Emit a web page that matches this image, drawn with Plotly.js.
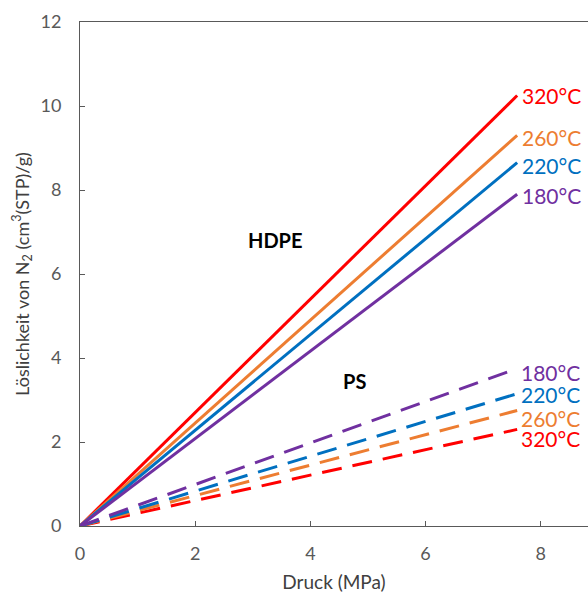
<!DOCTYPE html>
<html><head><meta charset="utf-8">
<script src="https://cdn.plot.ly/plotly-3.0.1.min.js"></script>
<style>html,body{margin:0;padding:0;background:#fff}#c{width:588px;height:593px}</style>
</head><body><div id="c"></div>
<script>
const pressure = [0, 7.59];
const temps = ['320°C', '260°C', '220°C', '180°C'];
const colors = ['#FF0000', '#ED7D31', '#0070C0', '#7030A0'];
const hdpe = [[0, 10.25], [0, 9.3], [0, 8.65], [0, 7.9]];
const ps = [[0, 2.3], [0, 2.75], [0, 3.15], [0, 3.75]];
const xTicks = [0, 2, 4, 6, 8];
const yTicks = [0, 2, 4, 6, 8, 10, 12];

// label offsets (pixels) so the PS labels do not collide
const hdpeShift = [0, -2, -3, -1];
const psShift = [-9, -7, 0, -3];

const traces = [];
const ann = [];
const font = 'Lato, "Open Sans", sans-serif';
temps.forEach((t, i) => {
  traces.push({x: pressure, y: hdpe[i], mode: 'lines', line: {color: colors[i], width: 3}, hoverinfo: 'skip'});
  traces.push({x: pressure, y: ps[i], mode: 'lines', line: {color: colors[i], width: 3, dash: '20px,11px'}, hoverinfo: 'skip'});
  ann.push({x: pressure[1], y: hdpe[i][1], xref: 'x', yref: 'y', text: t, showarrow: false, xanchor: 'left', xshift: 3, yshift: hdpeShift[i], font: {family: font, size: 21, color: colors[i]}});
  ann.push({x: pressure[1], y: ps[i][1], xref: 'x', yref: 'y', text: t, showarrow: false, xanchor: 'left', xshift: 3, yshift: psShift[i], height: 18, borderpad: 0, font: {family: font, size: 21, color: colors[i]}});
});
ann.push({x: 3.4, y: 6.8, xref: 'x', yref: 'y', text: '<b>HDPE</b>', showarrow: false, font: {family: font, size: 20, color: '#000'}});
ann.push({x: 4.77, y: 3.45, xref: 'x', yref: 'y', text: '<b>PS</b>', showarrow: false, font: {family: font, size: 20, color: '#000'}});

const layout = {
  width: 588, height: 593,
  margin: {l: 80, r: 0, t: 22, b: 67},
  paper_bgcolor: '#fff', plot_bgcolor: '#fff',
  showlegend: false,
  xaxis: {range: [0, 8.82], tickvals: xTicks, ticks: 'inside', ticklen: 5, tickcolor: '#595959',
    showgrid: false, zeroline: false, showline: true, linecolor: '#595959', linewidth: 1, mirror: true,
    tickfont: {family: font, size: 18, color: '#595959'}, ticklabelstandoff: 11,
    title: {text: 'Druck (MPa)', font: {family: font, size: 19, color: '#404040'}, standoff: 13}},
  yaxis: {range: [0, 12], tickvals: yTicks, ticks: 'inside', ticklen: 5, tickcolor: '#595959',
    showgrid: false, zeroline: false, showline: true, linecolor: '#595959', linewidth: 1,
    tickfont: {family: font, size: 18, color: '#595959'}, ticklabelstandoff: 14,
    title: {text: 'Löslichkeit von N<sub>2</sub> (cm<sup>3</sup>(STP)/g)', font: {family: font, size: 18, color: '#404040'}, standoff: 6}},
  annotations: ann
};
Plotly.newPlot('c', traces, layout, {staticPlot: true, displayModeBar: false});
</script></body></html>
